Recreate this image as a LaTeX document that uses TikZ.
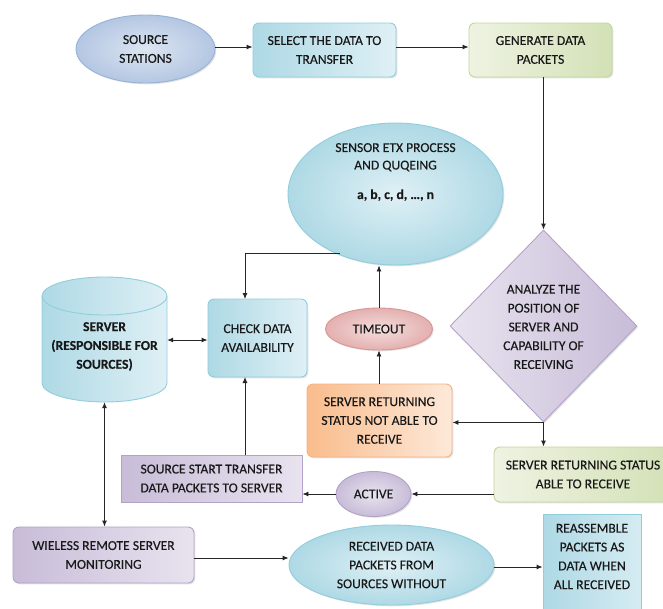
\documentclass[tikz,border=0pt]{standalone}
\usepackage{fontspec}
\setmainfont{Carlito}[FakeBold=0.25]
\usetikzlibrary{arrows.meta,shapes.geometric,shadows}
\definecolor{blueL}{HTML}{DFF0F5}
\definecolor{blueD}{HTML}{AED9E5}
\definecolor{blueB}{HTML}{92CDDC}
\definecolor{sblL}{HTML}{DCE6F2}
\definecolor{sblD}{HTML}{B4C6E2}
\definecolor{sblB}{HTML}{95B3D7}
\definecolor{lavL}{HTML}{E8E3EF}
\definecolor{lavD}{HTML}{C8BCD8}
\definecolor{lavB}{HTML}{B3A2C7}
\definecolor{grL}{HTML}{EEF3E2}
\definecolor{grD}{HTML}{D3E1B6}
\definecolor{grB}{HTML}{C3D69B}
\definecolor{orL}{HTML}{FDE9D9}
\definecolor{orD}{HTML}{F9BC8C}
\definecolor{orB}{HTML}{F7B283}
\definecolor{pkL}{HTML}{F4DEDD}
\definecolor{pkD}{HTML}{E3B0AF}
\definecolor{pkB}{HTML}{D99694}
\newcommand{\myfnt}{\fontsize{13.6}{18.8}\selectfont}
\begin{document}
\begin{tikzpicture}[x=1pt,y=-1pt,
  every node/.style={font=\myfnt, text=black!90},
  base/.style={draw, line width=0.9pt, align=center, inner sep=1pt,
    drop shadow={opacity=0.22, shadow xshift=1.3pt, shadow yshift=-1.3pt}},
  bluebox/.style={base, rounded corners=6pt, draw=blueB, left color=blueD, right color=blueL},
  greenbox/.style={base, rounded corners=6pt, draw=grB, left color=grL, right color=grD},
  lavbox/.style={base, draw=lavB, left color=lavD, right color=lavL},
  orbox/.style={base, rounded corners=6pt, draw=orB, left color=orD, right color=orL},
  blueell/.style={base, ellipse, draw=blueB, inner color=blueL, outer color=blueD},
  txt/.style={align=center, inner sep=0pt},
  arr/.style={draw=black!85, line width=0.9pt, -{Latex[length=6pt,width=5pt]}},
  darr/.style={draw=black!85, line width=0.9pt, {Latex[length=6pt,width=5pt]}-{Latex[length=6pt,width=5pt]}}
]
\useasboundingbox[fill=white] (0,0) rectangle (663,608);

% top row
\node[base, ellipse, draw=sblB, inner color=sblL, outer color=sblD,
  minimum width=139, minimum height=68] (source) at (145.5,49) {SOURCE\\STATIONS};
\node[bluebox, minimum width=143, minimum height=54] (select) at (324.5,50) {SELECT THE DATA TO\\TRANSFER};
\node[greenbox, minimum width=143, minimum height=54] (gen) at (540.5,50) {GENERATE DATA\\PACKETS};

% sensor ellipse
\node[blueell, minimum width=215, minimum height=142] (sensor) at (395.5,194) {};
\node[txt, font=\fontsize{13.6}{17.5}\selectfont] (sensorT) at (395.5,172)
  {SENSOR ETX PROCESS\\AND QUQEING\\[12pt]\textbf{a, b, c, d, …, n}};
\coordinate (sL) at (340,253);

% diamond
\node[base, diamond, draw=lavB, left color=lavL, right color=lavD,
  minimum width=187, minimum height=192, inner sep=0pt] (dia) at (543.5,326) {};
\node[txt] (diaT) at (543.5,327) {ANALYZE THE\\POSITION OF\\SERVER AND\\CAPABILITY OF\\RECEIVING};

% timeout
\node[base, ellipse, draw=pkB, inner color=pkL, outer color=pkD,
  minimum width=107, minimum height=42] (timeout) at (379,329) {TIMEOUT};

% server cylinder
\node[minimum width=125, minimum height=125, inner sep=0pt] (server) at (104.5,339.5) {};
\path[draw=blueB, line width=0.9pt, left color=blueD, right color=blueL]
  (42,296) -- (42,383) arc[start angle=180, end angle=360, x radius=62.5pt, y radius=19pt]
  -- (167,296) arc[start angle=0, end angle=180, x radius=62.5pt, y radius=19pt] -- cycle;
\draw[draw=blueB, line width=0.9pt]
  (42,296) arc[start angle=180, end angle=360, x radius=62.5pt, y radius=19pt];
\node[txt, font=\myfnt\bfseries] (serverT) at (104.5,346.5) {SERVER\\(RESPONSIBLE FOR\\SOURCES)};

% check data
\node[bluebox, minimum width=99, minimum height=78] (check) at (257.5,338) {CHECK DATA\\AVAILABILITY};
\coordinate (chkN) at (245,299);
\coordinate (chkS) at (245,377);

% not able
\node[orbox, minimum width=145, minimum height=73] (notable) at (379.5,420.5) {SERVER RETURNING\\STATUS NOT ABLE TO\\RECEIVE};

% able
\node[greenbox, minimum width=178, minimum height=55] (able) at (583,474.5) {SERVER RETURNING STATUS\\ABLE TO RECEIVE};

% active
\node[base, ellipse, draw=lavB, inner color=lavL, outer color=lavD,
  minimum width=75, minimum height=45, inner sep=0pt] (active) at (373.5,494) {ACTIVE};

% source start
\node[lavbox, minimum width=181, minimum height=47] (srcstart) at (211.5,478.5) {SOURCE START TRANSFER\\DATA PACKETS TO SERVER};
\coordinate (ssN) at (245,455);

% wireless
\node[lavbox, rounded corners=6pt, minimum width=181, minimum height=56] (wireless) at (103.5,555) {WIELESS REMOTE SERVER\\MONITORING};

% received
\node[blueell, minimum width=205, minimum height=80] (received) at (391.5,565) {RECEIVED DATA\\PACKETS FROM\\SOURCES WITHOUT};

% reassemble
\node[base, draw=blueB, left color=blueD, right color=blueL!80!blueD,
  minimum width=98, minimum height=102, anchor=north] (reass) at (592,514) {};
\node[txt] (reassT) at (592,556.5) {REASSEMBLE\\PACKETS AS\\DATA WHEN\\ALL RECEIVED};

% connectors
\draw[arr] (source.east |- 0,47) -- (select.west |- 0,47);
\draw[arr] (select.east |- 0,47) -- (gen.west |- 0,47);
\draw[arr] (dia.north |- gen.south) -- (dia.north);
\draw[arr] (sL) -| (chkN);
\draw[arr] (timeout.north) -- (timeout.north |- sensor.south);
\draw[arr] (notable.north -| timeout.north) -- (timeout.south);
\draw[arr] (dia.south) -- (dia.south -| notable.east);
\draw[arr] (dia.south) -- (dia.south |- able.north);
\draw[arr] (able.west |- active.east) -- (active.east);
\draw[arr] (active.west) -- (active.west -| srcstart.east);
\draw[arr] (ssN) -- (chkS);
\draw[darr] (server.east |- 0,340) -- (check.west |- 0,340);
\draw[darr] (server.south) -- (server.south |- wireless.north);
\draw[arr] (wireless.east |- 0,558) -- (received.west |- 0,558);
\draw[arr] (received.east |- 0,567) -- (reass.west |- 0,567);
\end{tikzpicture}
\end{document}
